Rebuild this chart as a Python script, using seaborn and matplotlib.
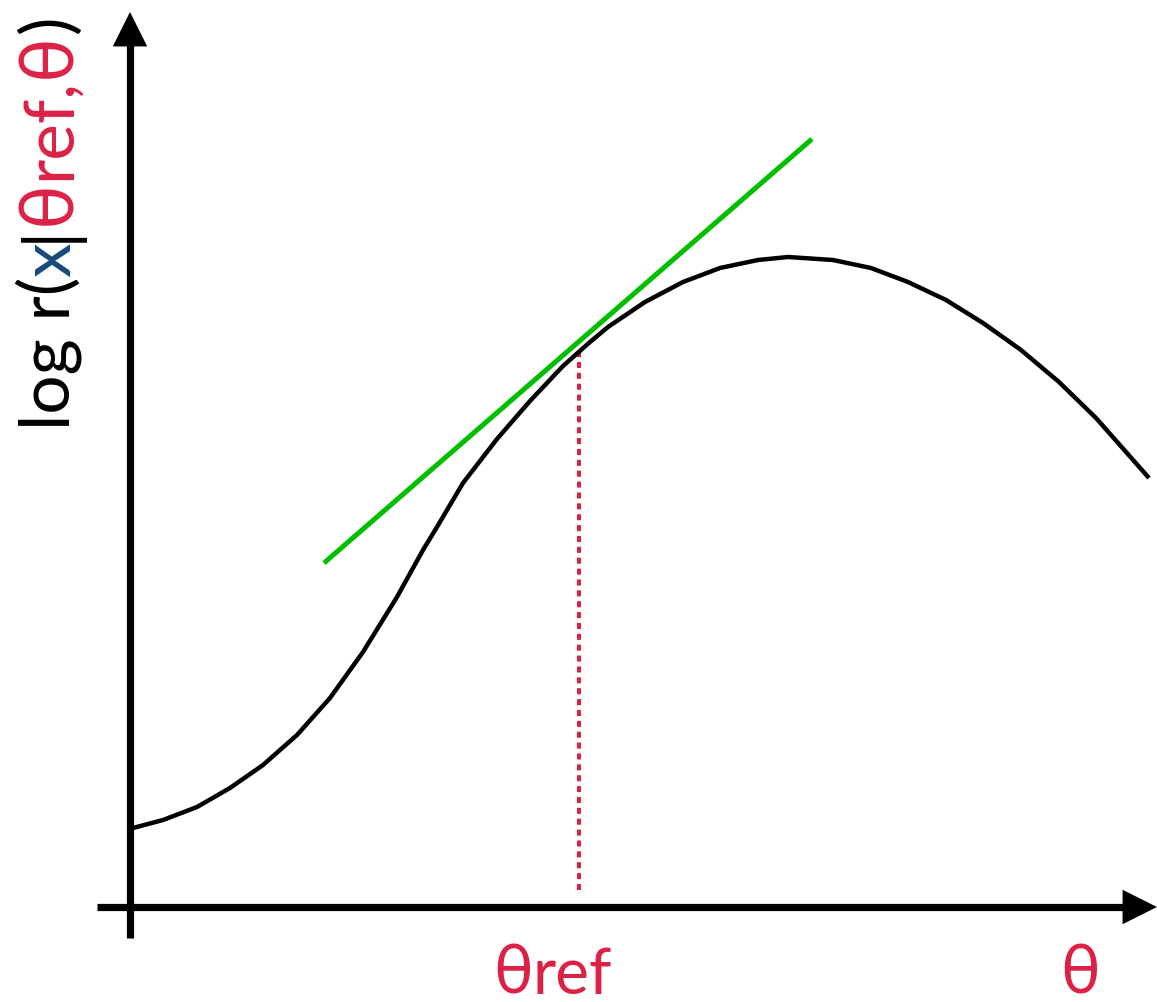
import matplotlib
matplotlib.use("Agg")
import matplotlib.pyplot as plt
import seaborn as sns
import pandas as pd
from matplotlib.patches import ArrowStyle

# log-ratio curve as a function of theta
theta = [3, 33, 67, 100, 133, 167, 200, 233, 267, 293, 307, 333, 367, 400, 433, 460,
         478, 515, 553, 590, 628, 658, 703, 741, 778, 816, 853, 891, 929, 966, 1019]
log_r = [79, 87, 100, 119, 142, 172, 209, 255, 310, 357, 380, 424, 468, 506, 541, 565,
         580, 605, 625, 639, 647, 650, 647, 639, 625, 607, 584, 557, 525, 489, 429]

# tangent line at the reference point
tangent_theta = [194, 682]
tangent_log_r = [344, 768]

# reference parameter and the curve value there
theta_ref = 449
log_r_at_ref = 557

RED = "#DC2146"
BLUE = "#174A7C"
GREEN = "#00BE00"
FONT = ["Lato", "Noto Sans", "DejaVu Sans"]

sns.set_theme(style="white")
plt.rcParams["font.family"] = FONT

fig = plt.figure(figsize=(11.57, 10.02), dpi=100)
ax = fig.add_axes([0, 0, 1, 1])
ax.set_xlim(-130, 1027)
ax.set_ylim(-95, 907)
ax.axis("off")

curve = pd.DataFrame({"theta": theta, "log_r": log_r})
tangent = pd.DataFrame({"theta": tangent_theta, "log_r": tangent_log_r})

sns.lineplot(data=curve, x="theta", y="log_r", ax=ax, color="black",
             linewidth=3.2, estimator=None, sort=False, zorder=3,
             solid_joinstyle="round", solid_capstyle="butt")
sns.lineplot(data=tangent, x="theta", y="log_r", ax=ax, color=GREEN,
             linewidth=3.6, estimator=None, sort=False, zorder=4,
             solid_capstyle="butt")
ax.plot([theta_ref, theta_ref], [17, log_r_at_ref], color=RED, linewidth=2.9,
        linestyle=(0, (1.5, 1.2)), dash_capstyle="butt", zorder=2)

# axes with arrow heads
head = ArrowStyle("-|>", head_length=0.8, head_width=0.4)
ax.plot([0, 0], [-31, 870], color="black", linewidth=5.2, solid_capstyle="butt", zorder=5)
ax.plot([-33, 1000], [0, 0], color="black", linewidth=5.2, solid_capstyle="butt", zorder=5)
ax.annotate("", xy=(0, 895), xytext=(0, 850),
            arrowprops=dict(arrowstyle=head, mutation_scale=31, color="black",
                            lw=0, shrinkA=0, shrinkB=0), zorder=6)
ax.annotate("", xy=(1027, 0), xytext=(980, 0),
            arrowprops=dict(arrowstyle=head, mutation_scale=31, color="black",
                            lw=0, shrinkA=0, shrinkB=0), zorder=6)

fig.canvas.draw()
renderer = fig.canvas.get_renderer()


def place_pieces(x, y, pieces, vertical=False):
    """Write coloured text pieces one after another from (x, y)."""
    for text, color, size in pieces:
        t = ax.text(x, y, text, color=color, fontsize=size, family=FONT,
                    rotation=90 if vertical else 0, rotation_mode="anchor",
                    ha="left", va="baseline")
        bb = t.get_window_extent(renderer)
        if vertical:
            y += bb.height
        else:
            x += bb.width


place_pieces(-60, 477, [("log r(", "black", 50), ("x", BLUE, 50), ("|", "black", 50),
                        ("θ", RED, 54), ("ref,", RED, 50), ("θ", RED, 54),
                        (")", "black", 50)], vertical=True)
place_pieces(363, -87, [("θ", RED, 48), ("ref", RED, 46)])
place_pieces(930, -87, [("θ", RED, 48)])

fig.savefig("out.png", dpi=100)
